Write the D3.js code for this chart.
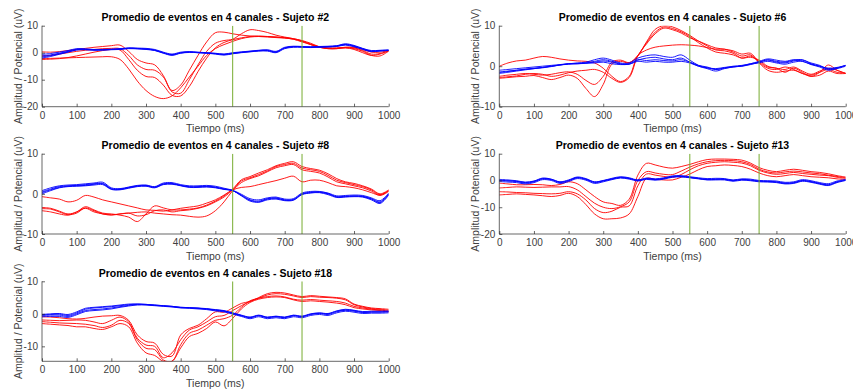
<!DOCTYPE html>
<html><head><meta charset="utf-8">
<script src="https://cdn.jsdelivr.net/npm/d3@7"></script>
<style>body{margin:0;background:#fff}svg{display:block}text{font-family:"Liberation Sans",Arial,Helvetica,sans-serif}</style>
</head><body><svg id="c" width="853" height="391"></svg>
<script>
// ---------- DATA ----------
const time = [0,25,50,75,100,125,150,175,200,225,250,275,300,325,350,375,400,425,450,475,500,525,550,575,600,625,650,675,700,725,750,775,800,825,850,875,900,925,950,975,1000];
const xTicks = [0,100,200,300,400,500,600,700,800,900,1000];
const markerTimes = [550, 750];
const titles = ["Promedio de eventos en 4 canales - Sujeto #2","Promedio de eventos en 4 canales - Sujeto #6","Promedio de eventos en 4 canales - Sujeto #8","Promedio de eventos en 4 canales - Sujeto #13","Promedio de eventos en 4 canales - Sujeto #18"];
const xLabel = "Tiempo (ms)";
const yLabel = "Amplitud / Potencial (uV)";
const yDomains = [[-20,10],[-10,10],[-10,10],[-20,10],[-14.6,10]];
const yTicks = [[-20,-10,0,10],[-10,0,10],[-10,0,10],[-20,-10,0,10],[-10,0,10]];

// Sujeto #2
const s2Red1 = [0.3,0.2,0.4,0.8,1.2,1.6,2.0,2.3,2.6,2.8,0.5,-2.5,-3.8,-4.5,-8.5,-14.0,-12.0,-6.5,-1.0,4.0,7.4,7.6,7.0,6.5,6.2,6.0,5.8,5.6,5.4,5.0,4.2,3.0,2.0,1.6,1.6,2.0,2.0,1.2,0.2,0.2,0.8];
const s2Red2 = [-1.2,-1.0,-0.5,0.0,0.5,0.9,1.2,1.5,1.6,1.5,-1.0,-4.5,-6.2,-6.5,-9.0,-14.5,-15.0,-10.0,-4.5,0.5,3.5,4.5,5.0,7.0,8.5,8.2,7.5,6.5,5.8,5.2,4.5,3.5,2.2,1.5,1.5,1.8,1.2,0.0,-1.0,-0.5,0.6];
const s2Red3 = [-2.5,-2.4,-2.2,-1.8,-1.2,-0.5,0.2,0.8,1.2,1.0,-2.5,-6.5,-8.8,-9.2,-12.0,-15.8,-16.0,-12.5,-7.0,-2.0,1.8,3.8,4.8,5.5,6.0,6.2,6.0,5.8,5.5,5.0,4.0,3.0,2.0,1.5,1.5,1.8,1.5,0.5,-1.0,-1.2,0.6];
const s2Red4 = [-2.2,-2.1,-2.0,-1.9,-1.8,-1.7,-1.6,-1.5,-1.5,-2.5,-6.0,-10.5,-14.0,-16.2,-17.0,-16.0,-13.0,-9.0,-5.0,-1.0,1.5,3.0,4.2,5.2,5.8,6.0,6.0,5.8,5.6,5.2,4.4,3.2,2.2,1.8,1.8,2.0,1.8,0.8,-0.5,-0.3,0.8];
const s2Blue1 = [-1.2,-0.8,-0.2,0.5,1.3,1.2,1.0,1.1,1.2,1.3,1.7,1.5,1.4,1.0,0.0,-0.7,0.0,0.3,0.1,-0.1,-0.3,-0.6,-0.2,0.2,0.5,0.8,0.9,0.3,1.8,2.3,2.2,2.1,2.2,2.3,2.5,3.1,2.5,1.5,0.6,0.8,1.0];
const s2Blue2 = [-2.0,-1.4,-0.6,0.2,1.0,1.1,0.9,1.0,1.1,1.2,1.5,1.4,1.2,0.8,-0.2,-1.0,-0.2,0.1,0.0,-0.2,-0.5,-0.9,-0.4,0.0,0.3,0.6,0.6,0.0,1.5,2.0,2.0,1.9,2.0,2.1,2.3,2.8,2.2,1.2,0.4,0.6,0.8];
const s2Blue3 = [-0.6,-0.3,0.2,0.8,1.5,1.4,1.2,1.2,1.3,1.5,1.8,1.7,1.6,1.2,0.2,-0.5,0.2,0.4,0.2,0.0,-0.2,-0.5,0.0,0.3,0.6,0.9,1.1,0.5,2.0,2.4,2.3,2.2,2.3,2.4,2.6,3.3,2.7,1.6,0.8,0.9,1.0];
const s2Blue4 = [-1.6,-1.1,-0.4,0.3,1.1,1.3,1.1,1.0,1.2,1.4,1.6,1.6,1.3,0.9,-0.1,-0.8,-0.1,0.2,0.0,-0.1,-0.4,-0.7,-0.3,0.1,0.4,0.7,0.8,0.2,1.7,2.2,2.1,2.0,2.1,2.2,2.4,3.0,2.4,1.4,0.5,0.7,0.9];

// Sujeto #6
const s6Red1 = [0.0,0.8,1.3,1.5,2.0,2.4,2.2,1.8,1.5,1.3,1.2,0.8,-0.5,-2.5,-3.8,-2.5,2.6,4.0,4.7,5.0,5.2,5.3,5.2,5.0,4.6,4.2,4.2,3.8,3.0,3.2,1.0,-0.5,-0.8,-0.2,-0.8,-1.8,-2.2,-1.5,-0.8,-1.5,-1.7];
const s6Red2 = [-2.8,-2.6,-2.4,-2.0,-1.8,-2.0,-2.5,-2.2,-1.6,-1.2,-1.0,-0.8,-1.5,-3.0,-4.0,-2.8,2.6,5.5,8.0,9.4,9.0,8.2,7.0,6.2,5.3,4.5,4.2,3.5,2.5,2.8,0.8,-1.0,-1.5,-1.2,-1.0,-1.8,-2.5,-2.2,-1.2,-1.8,-1.8];
const s6Red3 = [-3.0,-2.8,-2.6,-2.5,-2.3,-2.8,-3.3,-2.8,-2.2,-3.0,-5.5,-7.5,-4.5,0.5,1.2,0.8,2.6,6.0,9.1,10.0,9.7,8.8,7.6,6.2,5.0,4.0,3.8,3.2,2.0,2.5,1.2,-0.2,-0.5,-1.5,-0.5,-1.5,-2.5,-1.5,0.3,-1.0,-1.8];
const s6Red4 = [-2.5,-2.2,-2.0,-1.8,-2.0,-2.2,-2.0,-1.6,-1.4,-2.0,-3.5,-4.5,-2.5,1.0,1.5,0.9,2.6,5.8,8.4,9.7,9.3,8.5,7.3,5.8,4.5,3.5,3.2,2.8,2.0,2.2,1.5,0.0,-0.5,-0.8,-0.2,-1.2,-2.0,-1.2,-0.5,-1.0,-1.8];
const s6Blue1 = [-1.4,-1.2,-1.0,-0.8,-0.6,-0.3,0.0,0.3,0.6,0.8,1.0,1.6,2.0,1.5,0.8,0.8,2.0,2.6,2.8,2.4,2.2,2.8,1.5,0.2,-0.4,-0.8,-0.4,0.0,0.2,0.6,1.2,1.8,1.5,1.2,1.6,1.2,0.5,0.0,-0.5,-0.3,0.2];
const s6Blue2 = [-1.8,-1.5,-1.2,-0.9,-0.6,-0.4,-0.1,0.3,0.6,0.7,0.8,1.0,1.3,1.0,0.5,0.5,1.5,2.0,2.2,1.8,1.6,2.0,1.0,0.0,-0.6,-1.2,-0.6,-0.2,0.0,0.4,1.0,1.5,1.0,0.8,1.3,1.5,0.8,0.2,-0.8,-0.6,0.0];
const s6Blue3 = [-1.0,-0.8,-0.6,-0.4,-0.2,0.0,0.2,0.4,0.6,0.6,0.7,0.8,1.0,0.6,0.4,0.5,1.2,1.0,1.2,1.0,1.0,1.2,0.8,0.0,-0.4,-0.6,-0.3,-0.1,0.0,0.5,0.8,1.2,0.8,0.5,1.0,1.2,0.4,-0.2,-1.0,-0.5,0.2];
const s6Blue4 = [-1.6,-1.3,-1.0,-0.7,-0.5,-0.3,0.0,0.3,0.5,0.6,0.8,1.2,1.6,1.2,0.6,0.6,1.6,1.4,1.6,1.4,1.3,1.6,1.0,0.2,-0.2,-0.8,-0.5,-0.2,0.1,0.6,1.0,1.6,1.2,1.0,1.5,1.6,0.6,0.0,-0.6,-0.4,0.2];

// Sujeto #8
const s8Red1 = [-0.7,-1.0,-1.3,-2.0,-1.6,-0.4,-0.8,-1.5,-2.0,-2.5,-3.0,-3.5,-4.0,-4.1,-4.3,-4.0,-3.6,-3.3,-3.0,-2.3,-1.5,-0.3,1.0,1.6,1.8,2.3,2.8,3.3,3.9,4.4,3.0,3.4,3.4,2.8,2.0,1.8,1.5,1.0,0.3,-0.3,0.8];
const s8Red2 = [-3.4,-3.6,-4.3,-5.0,-4.5,-3.2,-4.0,-4.8,-5.0,-5.3,-5.8,-6.9,-5.0,-3.0,-3.5,-4.0,-4.0,-3.8,-3.5,-2.8,-1.8,-0.5,1.2,3.5,4.3,5.2,6.0,7.0,7.6,8.0,6.8,6.3,5.9,5.0,3.8,3.0,2.6,2.0,1.2,0.0,1.0];
const s8Red3 = [-3.7,-3.8,-4.5,-5.2,-4.8,-3.5,-4.2,-5.0,-5.2,-5.0,-4.8,-5.5,-5.2,-4.2,-4.0,-4.5,-4.2,-4.0,-3.6,-3.0,-2.0,-0.8,1.0,3.2,4.0,4.8,5.7,6.8,7.3,7.6,6.4,6.0,5.6,4.6,3.4,2.8,2.3,1.8,1.0,-0.2,0.8];
const s8Red4 = [-4.2,-4.5,-5.0,-5.3,-4.5,-3.6,-4.5,-5.0,-5.3,-5.0,-4.8,-4.6,-4.5,-4.8,-5.0,-5.2,-5.3,-5.6,-5.8,-5.5,-4.2,-2.0,0.8,2.8,3.8,4.5,5.5,6.5,7.0,7.3,6.0,5.6,5.2,4.2,3.0,2.5,2.0,1.5,0.7,-0.4,0.6];
const s8Blue1 = [0.5,1.2,1.8,2.0,2.1,2.3,2.5,2.6,1.3,1.2,1.6,2.0,2.1,1.7,2.5,2.6,2.1,1.8,1.8,1.9,1.7,1.2,0.8,-0.3,-1.5,-1.8,-1.2,-1.0,-1.5,-1.4,0.0,0.4,0.4,0.0,-0.7,-0.6,-0.5,-0.6,-1.2,-2.0,0.0];
const s8Blue2 = [0.0,0.8,1.5,1.8,1.9,2.0,2.2,2.3,1.1,1.0,1.4,1.8,1.9,1.5,2.3,2.4,2.0,1.6,1.6,1.7,1.5,1.1,0.8,-0.5,-1.8,-2.1,-1.5,-1.3,-1.7,-1.6,-0.2,0.2,0.3,-0.2,-0.9,-0.8,-0.7,-0.8,-1.5,-2.4,-0.3];
const s8Blue3 = [0.8,1.5,2.0,2.2,2.3,2.5,2.7,2.9,1.5,1.3,1.7,2.1,2.2,1.8,2.7,2.8,2.3,2.0,2.0,2.1,1.9,1.4,0.9,-0.1,-1.2,-1.5,-1.0,-0.8,-1.3,-1.2,0.2,0.6,0.6,0.2,-0.5,-0.4,-0.3,-0.4,-1.0,-1.7,0.2];
const s8Blue4 = [0.3,1.0,1.6,1.9,2.0,2.1,2.4,2.5,1.2,1.1,1.5,1.9,2.0,1.6,2.4,2.5,2.1,1.7,1.7,1.8,1.6,1.2,0.8,-0.4,-1.6,-2.0,-1.3,-1.1,-1.6,-1.5,-0.1,0.3,0.5,0.1,-0.8,-0.7,-0.6,-0.7,-1.3,-2.2,-0.1];

// Sujeto #13
const s13Red1 = [-1.0,-1.3,-1.6,-1.6,-1.5,-1.6,-1.9,-1.5,-0.5,-1.2,-3.5,-6.0,-8.0,-8.6,-9.3,-7.0,2.0,6.4,5.8,5.0,4.6,5.2,6.0,7.0,7.8,8.0,8.0,7.9,7.6,6.5,4.8,3.8,3.3,3.8,4.2,3.8,3.3,3.0,2.5,1.8,1.3];
const s13Red2 = [-2.8,-2.6,-2.4,-2.5,-2.6,-2.5,-2.4,-2.4,-2.3,-3.5,-6.0,-8.5,-10.0,-10.5,-9.8,-8.0,0.0,3.3,2.8,2.3,2.2,3.5,5.0,6.2,7.0,7.4,7.5,7.4,7.0,6.0,4.2,3.2,2.8,3.2,3.5,3.2,2.8,2.5,2.0,1.5,1.0];
const s13Red3 = [-4.2,-4.3,-4.5,-4.6,-4.8,-4.9,-5.0,-4.8,-4.2,-5.0,-7.3,-10.5,-12.0,-11.5,-10.0,-9.5,-2.0,2.4,2.0,1.5,1.2,2.2,4.0,5.5,6.4,6.8,7.0,6.8,6.5,5.5,3.8,2.8,2.3,2.6,3.0,2.6,2.3,2.0,1.8,1.2,0.8];
const s13Red4 = [-5.4,-5.2,-5.0,-5.2,-5.4,-5.7,-6.0,-5.6,-4.8,-6.0,-9.0,-12.5,-14.3,-14.3,-14.0,-12.5,-6.0,0.8,0.4,0.2,0.2,1.2,2.4,4.0,5.2,5.5,5.8,5.6,5.2,4.2,2.8,1.8,1.4,1.8,2.2,1.8,1.4,1.2,1.0,0.6,0.4];
const s13Blue1 = [0.0,-0.2,-0.4,-1.0,-0.5,0.6,0.3,-0.8,-0.1,1.0,0.4,-0.8,-0.2,0.6,1.2,0.8,0.0,0.7,0.4,0.8,1.5,1.6,1.2,0.8,0.4,0.5,0.5,0.0,0.4,0.2,-0.2,-0.3,-0.5,-1.0,-0.8,0.0,-0.4,-1.1,-1.6,-0.5,0.2];
const s13Blue2 = [0.4,0.2,-0.1,-0.6,-0.2,0.9,0.5,-0.5,0.2,1.3,0.7,-0.5,0.0,0.8,1.4,1.0,0.2,0.9,0.6,1.0,1.7,1.8,1.4,1.0,0.7,0.8,0.7,0.2,0.6,0.5,0.0,-0.1,-0.2,-0.7,-0.5,0.3,-0.1,-0.8,-1.2,-0.2,0.4];
const s13Blue3 = [-0.4,-0.6,-0.8,-1.3,-0.8,0.3,0.0,-1.1,-0.4,0.7,0.1,-1.1,-0.5,0.3,0.9,0.5,-0.2,0.4,0.1,0.5,1.2,1.3,1.0,0.6,0.2,0.2,0.2,-0.3,0.1,-0.1,-0.5,-0.6,-0.8,-1.3,-1.1,-0.3,-0.7,-1.4,-1.9,-0.8,0.0];
const s13Blue4 = [0.1,-0.1,-0.3,-0.8,-0.3,0.7,0.4,-0.6,0.0,1.1,0.5,-0.6,-0.1,0.5,1.1,0.7,0.1,0.6,0.3,0.7,1.4,1.5,1.1,0.7,0.3,0.4,0.4,-0.1,0.3,0.1,-0.3,-0.4,-0.6,-1.1,-0.9,-0.1,-0.5,-1.2,-1.7,-0.6,0.1];

// Sujeto #18
const s18Red1 = [-0.9,-1.0,-1.2,-1.5,-1.6,-1.4,-1.0,-0.7,-0.6,-0.5,-2.0,-6.5,-8.5,-9.0,-12.5,-13.0,-6.5,-4.5,-3.5,-1.5,0.6,0.5,1.8,3.2,3.8,5.0,6.2,6.6,6.4,5.8,5.3,5.6,5.4,5.2,5.0,4.6,3.0,2.3,1.8,1.6,1.4];
const s18Red2 = [-1.9,-2.0,-2.1,-2.0,-1.9,-2.0,-2.5,-3.0,-2.0,-1.0,-2.5,-7.5,-9.6,-10.0,-13.5,-12.0,-8.0,-5.0,-4.0,-2.5,-0.9,-0.5,1.0,2.5,3.8,4.8,5.8,6.2,6.0,5.5,5.0,5.3,5.1,5.0,4.8,4.3,2.8,2.1,1.6,1.4,1.1];
const s18Red3 = [-2.4,-2.6,-2.8,-2.9,-3.0,-3.2,-3.6,-4.2,-3.5,-2.0,-3.0,-8.0,-10.6,-11.0,-14.2,-14.6,-9.5,-6.0,-5.0,-3.5,-2.0,-1.5,-0.4,2.0,4.0,4.8,5.3,5.5,5.2,4.5,4.2,4.4,4.2,4.0,3.8,3.3,2.3,1.8,1.4,1.2,0.8];
const s18Red4 = [-3.0,-3.2,-3.4,-3.6,-4.0,-4.0,-4.5,-4.8,-4.0,-3.0,-4.0,-9.0,-12.0,-12.8,-14.6,-14.6,-10.5,-7.0,-6.0,-4.5,-2.5,-3.7,-1.4,1.5,3.5,4.5,5.0,5.2,5.0,4.3,3.8,4.0,3.8,3.6,3.3,2.8,1.9,1.5,1.2,1.0,0.6];
const s18Blue1 = [-0.5,-0.4,-0.4,-0.8,0.0,1.0,1.3,1.5,1.8,2.2,2.6,2.9,2.8,2.6,2.4,2.2,1.9,1.8,1.7,1.5,1.1,0.8,0.1,-0.6,-1.2,-0.6,-1.2,-0.9,-1.2,-0.6,-0.9,-0.2,0.1,-0.2,0.6,1.1,0.8,0.4,0.5,0.5,0.6];
const s18Blue2 = [-0.2,0.0,0.1,-0.2,0.6,1.7,2.0,2.2,2.4,2.7,3.0,3.0,2.9,2.7,2.5,2.3,2.0,1.9,1.8,1.6,1.3,1.0,0.3,-0.4,-1.0,-0.4,-1.0,-0.7,-1.0,-0.4,-0.7,0.0,0.3,0.1,0.9,1.4,1.1,0.7,0.8,0.8,0.9];
const s18Blue3 = [-0.9,-0.8,-0.8,-1.1,-0.3,0.7,1.0,1.2,1.5,2.0,2.4,2.7,2.7,2.5,2.3,2.1,1.8,1.7,1.5,1.3,0.9,0.6,-0.1,-0.8,-1.5,-0.9,-1.5,-1.2,-1.5,-0.9,-1.2,-0.5,-0.2,-0.5,0.3,0.8,0.5,0.1,0.2,0.2,0.3];
const s18Blue4 = [-0.3,-0.2,-0.1,-0.5,0.3,1.4,1.8,2.0,2.2,2.5,2.8,3.0,2.9,2.7,2.5,2.3,2.0,1.9,1.7,1.5,1.2,0.9,0.2,-0.5,-1.1,-0.5,-1.1,-0.8,-1.1,-0.5,-0.8,-0.1,0.2,0.0,0.8,1.2,1.0,0.5,0.6,0.6,0.7];

// ---------- BUILD ----------
const redSets = [[s2Red1,s2Red2,s2Red3,s2Red4],[s6Red1,s6Red2,s6Red3,s6Red4],[s8Red1,s8Red2,s8Red3,s8Red4],[s13Red1,s13Red2,s13Red3,s13Red4],[s18Red1,s18Red2,s18Red3,s18Red4]];
const blueSets = [[s2Blue1,s2Blue2,s2Blue3,s2Blue4],[s6Blue1,s6Blue2,s6Blue3,s6Blue4],[s8Blue1,s8Blue2,s8Blue3,s8Blue4],[s13Blue1,s13Blue2,s13Blue3,s13Blue4],[s18Blue1,s18Blue2,s18Blue3,s18Blue4]];

// layout (pixel boxes of each axes)
const boxes = [
  {l:42, r:388.7, t:25.7, b:106.7},
  {l:499.3, r:845.7, t:25.7, b:106.7},
  {l:42, r:388.7, t:153.7, b:234},
  {l:499.3, r:845.7, t:153.7, b:234},
  {l:42, r:388.7, t:281.3, b:361.3}
];
const axisColor = "#262626";
const fmt = d => String(d);
const svg = d3.select("#c");
const defs = svg.append("defs");

boxes.forEach((bx, i) => {
  const x = d3.scaleLinear().domain([0,1000]).range([bx.l, bx.r]);
  const y = d3.scaleLinear().domain(yDomains[i]).range([bx.b, bx.t]);
  const clipId = "clip"+i;
  defs.append("clipPath").attr("id", clipId).append("rect")
    .attr("x", bx.l).attr("y", bx.t).attr("width", bx.r-bx.l).attr("height", bx.b-bx.t);
  const g = svg.append("g");
  const plot = g.append("g").attr("clip-path", `url(#${clipId})`);
  const line = d3.line().x((d,k)=>x(time[k])).y(d=>y(d)).curve(d3.curveCatmullRom.alpha(0.5));
  redSets[i].forEach(s => plot.append("path").attr("d", line(s)).attr("fill","none").attr("stroke","#ff0000").attr("stroke-width",0.9));
  blueSets[i].forEach(s => plot.append("path").attr("d", line(s)).attr("fill","none").attr("stroke","#0000ff").attr("stroke-width",0.9));
  markerTimes.forEach(m => plot.append("line").attr("x1", x(m)).attr("x2", x(m)).attr("y1", bx.t).attr("y2", bx.b)
    .attr("stroke","#77ac30").attr("stroke-width",1));

  // axes
  const xa = g.append("g").attr("transform", `translate(0,${bx.b})`)
    .call(d3.axisBottom(x).tickValues(xTicks).tickFormat(fmt).tickSizeInner(-3).tickSizeOuter(0).tickPadding(5));
  const ya = g.append("g").attr("transform", `translate(${bx.l},0)`)
    .call(d3.axisLeft(y).tickValues(yTicks[i]).tickFormat(fmt).tickSizeInner(-3).tickSizeOuter(0).tickPadding(4));
  [xa, ya].forEach(a => {
    a.select(".domain").attr("stroke", axisColor).attr("stroke-width", 0.7);
    a.selectAll(".tick line").attr("stroke", axisColor).attr("stroke-width", 0.7);
    a.selectAll(".tick text").attr("fill", "#404040").style("font-size","10px").style("font-family",'"Liberation Sans", Arial, sans-serif');
  });
  ya.select(".domain").attr("d", `M0,${bx.t}V${bx.b}`);
  xa.select(".domain").attr("d", `M${bx.l},0H${bx.r}`);

  g.append("text").attr("x", (bx.l+bx.r)/2).attr("y", bx.t-4.5).attr("text-anchor","middle")
    .style("font-size","10.5px").style("font-weight","bold").attr("fill","#000").text(titles[i]);
  g.append("text").attr("x", (bx.l+bx.r)/2).attr("y", bx.b+25.5).attr("text-anchor","middle")
    .style("font-size","10.5px").attr("fill","#404040").text(xLabel);
  g.append("text").attr("transform", `translate(${bx.l-20.5},${(bx.t+bx.b)/2}) rotate(-90)`).attr("text-anchor","middle")
    .style("font-size","10.5px").attr("fill","#404040").text(yLabel);
});
</script></body></html>
